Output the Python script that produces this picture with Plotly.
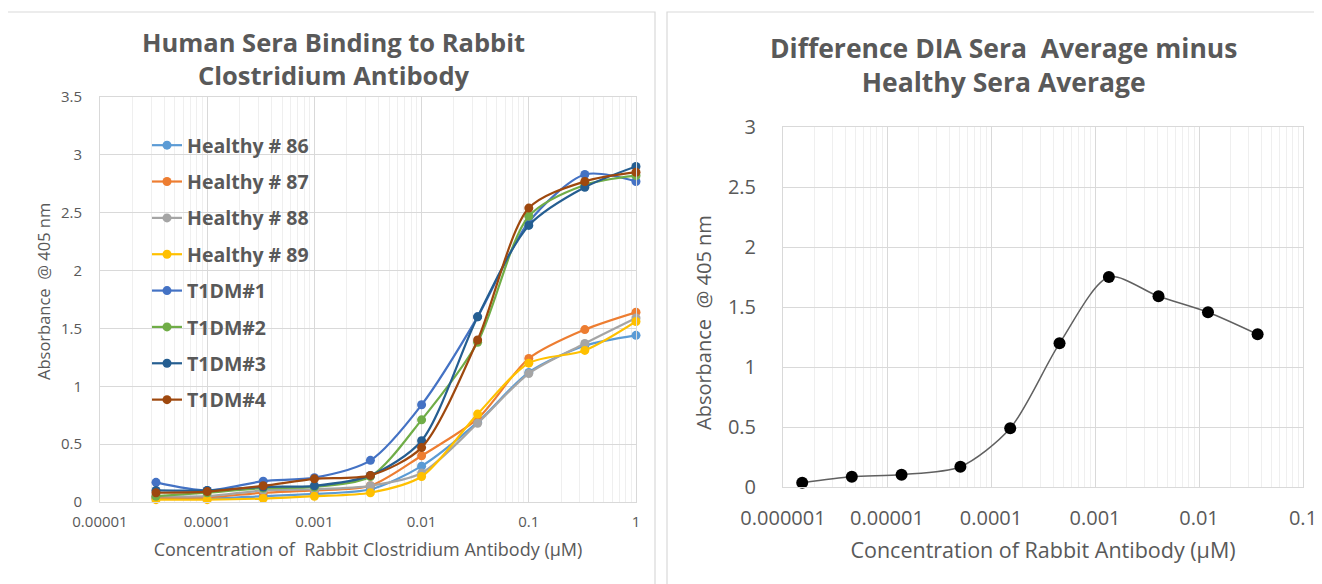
import plotly.graph_objects as go

# the page body adds an 8px margin, so the figure is drawn 8px in from the window corner
OFF = 8
W, H = 1322 - OFF, 584 - OFF

# ---------------- data: left chart ----------------
conc_left = [3.33e-5, 1e-4, 3.33e-4, 1e-3, 3.33e-3, 0.01, 0.0333, 0.1, 0.333, 1]
healthy_86 = [0.03, 0.03, 0.05, 0.07, 0.11, 0.31, 0.69, 1.12, 1.35, 1.44]
healthy_87 = [0.04, 0.04, 0.08, 0.10, 0.14, 0.40, 0.72, 1.24, 1.49, 1.64]
healthy_88 = [0.05, 0.05, 0.10, 0.11, 0.14, 0.25, 0.68, 1.11, 1.37, 1.59]
healthy_89 = [0.02, 0.02, 0.03, 0.05, 0.08, 0.22, 0.76, 1.20, 1.31, 1.56]
t1dm_1 = [0.17, 0.10, 0.18, 0.21, 0.36, 0.84, 1.60, 2.42, 2.83, 2.77]
t1dm_2 = [0.05, 0.08, 0.12, 0.13, 0.22, 0.71, 1.38, 2.47, 2.74, 2.82]
t1dm_3 = [0.10, 0.10, 0.13, 0.14, 0.23, 0.53, 1.60, 2.39, 2.72, 2.90]
t1dm_4 = [0.08, 0.09, 0.14, 0.20, 0.23, 0.47, 1.40, 2.54, 2.77, 2.85]
left_names = ["Healthy # 86", "Healthy # 87", "Healthy # 88", "Healthy # 89",
              "T1DM#1", "T1DM#2", "T1DM#3", "T1DM#4"]
left_series = [healthy_86, healthy_87, healthy_88, healthy_89, t1dm_1, t1dm_2, t1dm_3, t1dm_4]
left_colors = ["#5B9BD5", "#ED7D31", "#A5A5A5", "#FFC000",
               "#4472C4", "#70AD47", "#255E91", "#9E480E"]
left_xticks = [1e-5, 1e-4, 1e-3, 1e-2, 1e-1, 1]
left_xticktext = ["0.00001", "0.0001", "0.001", "0.01", "0.1", "1"]

# ---------------- data: right chart ----------------
conc_right = [1.53e-6, 4.59e-6, 1.38e-5, 5.08e-5, 1.53e-4, 4.56e-4, 1.36e-3, 4.08e-3, 1.22e-2, 3.66e-2]
diff_avg = [0.036, 0.086, 0.103, 0.169, 0.489, 1.197, 1.75, 1.589, 1.456, 1.272]
right_xticks = [1e-6, 1e-5, 1e-4, 1e-3, 1e-2, 1e-1]
right_xticktext = ["0.000001", "0.00001", "0.0001", "0.001", "0.01", "0.1"]

FONT = "Open Sans"
GRAY = "#595959"
GRID = "#D9D9D9"
MINOR = "#EFEFEF"
NB = "\u00a0"


def px(x):
    return (x - OFF) / W


def py(y):
    return 1 - (y - OFF) / H


def minor_vals(decades):
    return [m * d for d in decades[:-1] for m in range(2, 10)]


fig = go.Figure()

for name, ys, col in zip(left_names, left_series, left_colors):
    fig.add_trace(go.Scatter(
        x=conc_left, y=ys, name=name, legendgroup=name,
        mode="lines+markers", line=dict(color=col, width=2.2, shape="spline", smoothing=0.8),
        marker=dict(color=col, size=9), xaxis="x", yaxis="y", cliponaxis=False))

fig.add_trace(go.Scatter(
    x=conc_right, y=diff_avg, name="Difference", showlegend=False,
    mode="lines+markers", line=dict(color="#606060", width=1.5, shape="spline", smoothing=0.8),
    marker=dict(color="black", size=12), xaxis="x2", yaxis="y2", cliponaxis=False))

fig.update_layout(
    width=W, height=H, margin=dict(l=0, r=0, t=0, b=0, autoexpand=False),
    paper_bgcolor="white", plot_bgcolor="white",
    font=dict(family=FONT, color=GRAY),
    xaxis=dict(type="log", range=[-5, 0], domain=[px(100), px(636)], anchor="y",
               automargin=False,
               tickvals=left_xticks, ticktext=left_xticktext,
               tickfont=dict(family=FONT, color=GRAY, size=15),
               ticklabelstandoff=6,
               minor=dict(showgrid=True, gridcolor=MINOR, gridwidth=1,
                          tickvals=minor_vals(left_xticks)),
               title=dict(text=f"Concentration of {NB}Rabbit Clostridium Antibody (µM)",
                          font=dict(family=FONT, color=GRAY, size=18), standoff=13),
               showline=True, linecolor=GRID, mirror=True, gridcolor=GRID, zeroline=False),
    yaxis=dict(range=[0, 3.5], domain=[py(502), py(97)], anchor="x", dtick=0.5,
               automargin=False,
               tickfont=dict(family=FONT, color=GRAY, size=15),
               ticklabelstandoff=14,
               showline=True, linecolor=GRID, mirror=True, gridcolor=GRID, zeroline=False),
    xaxis2=dict(type="log", range=[-6, -1], domain=[px(783), px(1303)], anchor="y2",
                automargin=False,
                tickvals=right_xticks, ticktext=right_xticktext,
                tickfont=dict(family=FONT, color=GRAY, size=20),
                ticklabelstandoff=13,
                minor=dict(showgrid=True, gridcolor=MINOR, gridwidth=1,
                           tickvals=minor_vals(right_xticks)),
                title=dict(text="Concentration of Rabbit Antibody (µM)",
                           font=dict(family=FONT, color=GRAY, size=21.5), standoff=12),
                showline=True, linecolor=GRID, mirror=True, gridcolor=GRID, zeroline=False),
    yaxis2=dict(range=[0, 3], domain=[py(487), py(127)], anchor="x2", dtick=0.5,
                automargin=False,
                tickfont=dict(family=FONT, color=GRAY, size=20),
                ticklabelstandoff=22,
                showline=True, linecolor=GRID, mirror=True, gridcolor=GRID, zeroline=False),
    legend=dict(x=px(147), y=py(126), xanchor="left", yanchor="top",
                bgcolor="rgba(0,0,0,0)", tracegroupgap=8,
                font=dict(family=FONT, color=GRAY, size=19.5, weight="bold")),
    showlegend=True,
)

# y-axis titles (placed as rotated texts, matching the reference offset)
fig.add_annotation(xref="paper", yref="paper", x=px(43), y=py(292), showarrow=False,
                   xanchor="center", yanchor="middle", textangle=-90,
                   text=f"Absorbance {NB}@ 405 nm",
                   font=dict(family=FONT, color=GRAY, size=16.5))
fig.add_annotation(xref="paper", yref="paper", x=px(703), y=py(323), showarrow=False,
                   xanchor="center", yanchor="middle", textangle=-90,
                   text=f"Absorbance {NB}@ 405 nm",
                   font=dict(family=FONT, color=GRAY, size=20))

# chart frames
fig.add_shape(type="rect", xref="paper", yref="paper", x0=px(7), x1=px(655), y0=-0.05, y1=py(12),
              line=dict(color="#D9D9D9", width=1.2), layer="below")
fig.add_shape(type="rect", xref="paper", yref="paper", x0=px(667), x1=1.01, y0=-0.05, y1=py(12),
              line=dict(color="#D9D9D9", width=1.2), layer="below")

# titles
fig.add_annotation(xref="paper", yref="paper", x=px(333), y=py(58), showarrow=False,
                   xanchor="center", yanchor="middle",
                   text="<b>Human Sera Binding to Rabbit<br>Clostridium Antibody</b>",
                   font=dict(family=FONT, color=GRAY, size=25.5), align="center")
fig.add_annotation(xref="paper", yref="paper", x=px(1003), y=py(65), showarrow=False,
                   xanchor="center", yanchor="middle",
                   text=f"<b>Difference DIA Sera {NB}Average minus<br>Healthy Sera Average</b>",
                   font=dict(family=FONT, color=GRAY, size=26.5), align="center")

fig.write_html("out.html")
